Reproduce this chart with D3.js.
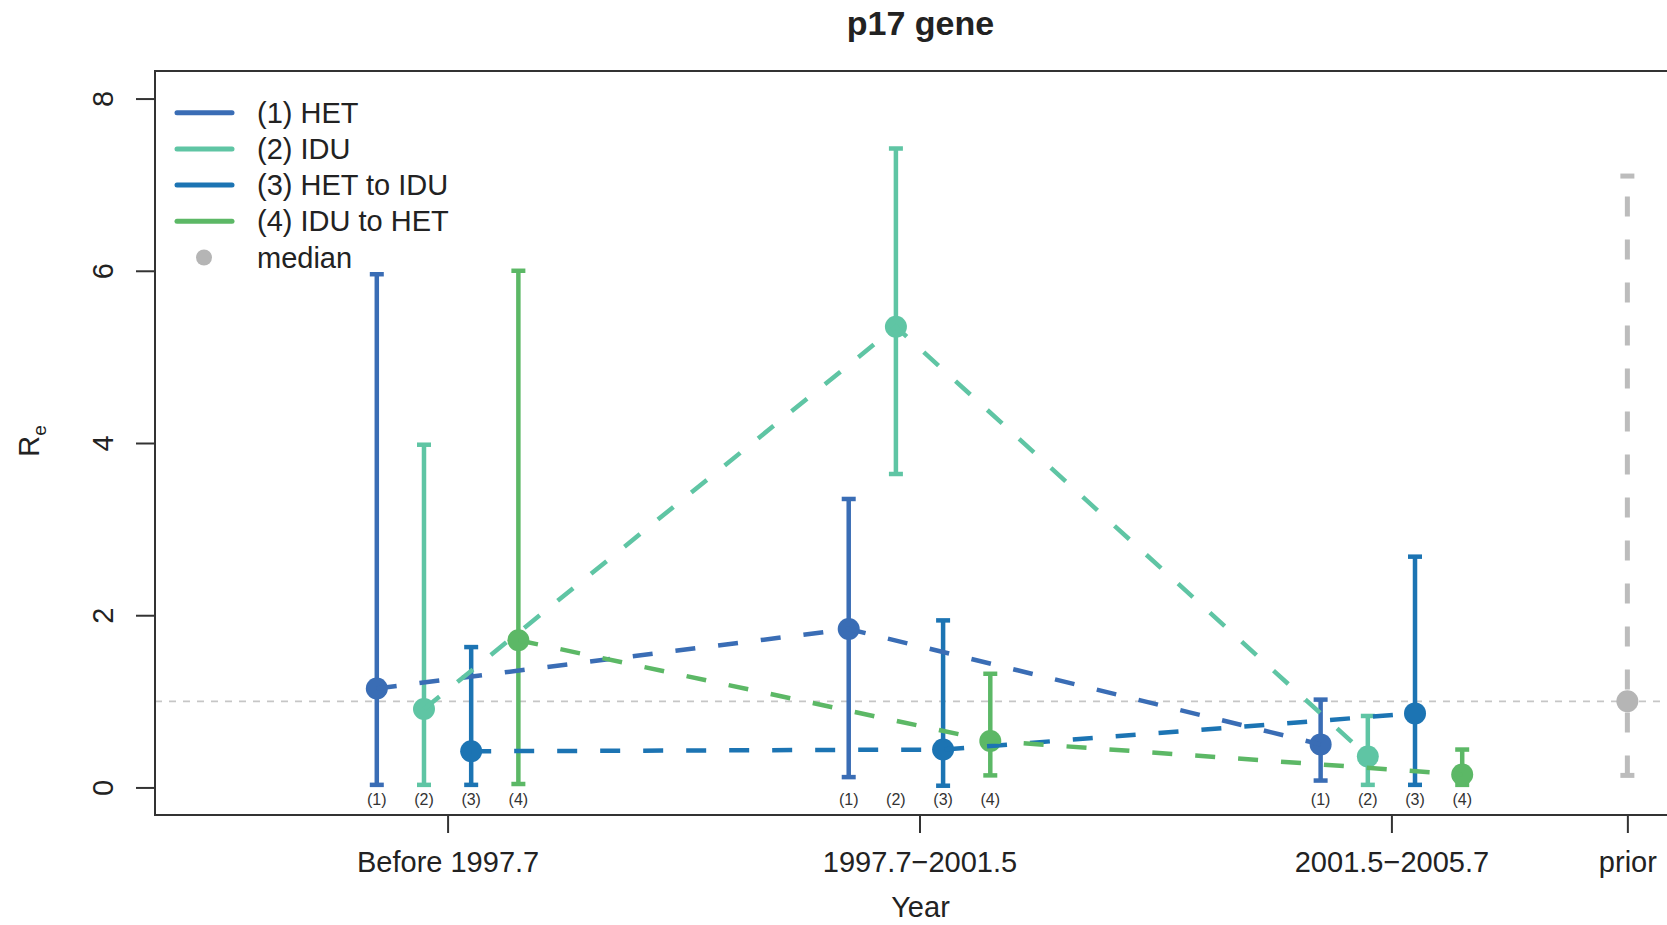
<!DOCTYPE html>
<html>
<head>
<meta charset="utf-8">
<script src="https://cdn.jsdelivr.net/npm/d3@7"></script>
<style>
  body { margin: 0; background: #fff; }
  svg { display: block; font-family: "Liberation Sans", Arial, sans-serif; }
</style>
</head>
<body>
<svg id="chart" width="1667" height="925"></svg>
<script>
// periods on the x axis, plus the prior column
var periods = ["Before 1997.7", "1997.7\u22122001.5", "2001.5\u22122005.7"];
var periodTicks = [1, 2, 3, 3.5];
var tickLabels = ["Before 1997.7", "1997.7\u22122001.5", "2001.5\u22122005.7", "prior"];
var yTicks = [0, 2, 4, 6, 8];

var seriesNames = ["(1) HET", "(2) IDU", "(3) HET to IDU", "(4) IDU to HET"];
var seriesShort = ["(1)", "(2)", "(3)", "(4)"];
var colors = ["#3a6db5", "#5fc5a4", "#1c74b3", "#5cb866"];

// Re median and interval per period
var medianHET = [1.15, 1.84, 0.50];
var lowerHET  = [0.03, 0.12, 0.08];
var upperHET  = [5.96, 3.35, 1.02];

var medianIDU = [0.91, 5.35, 0.36];
var lowerIDU  = [0.03, 3.64, 0.03];
var upperIDU  = [3.98, 7.42, 0.83];

var medianH2I = [0.42, 0.44, 0.86];
var lowerH2I  = [0.03, 0.02, 0.03];
var upperH2I  = [1.63, 1.94, 2.68];

var medianI2H = [1.71, 0.54, 0.15];
var lowerI2H  = [0.04, 0.14, 0.03];
var upperI2H  = [6.00, 1.32, 0.44];

var prior = { lower: 0.14, median: 1.0, upper: 7.10 };
var refLine = 1;

var medians = [medianHET, medianIDU, medianH2I, medianI2H];
var lowers = [lowerHET, lowerIDU, lowerH2I, lowerI2H];
var uppers = [upperHET, upperIDU, upperH2I, upperI2H];

var svg = d3.select("#chart");
var margin = {top: 71, left: 155, bottom: 815, right: 1684};

var x = d3.scaleLinear().domain([0.38, 3.62]).range([margin.left, margin.right]);
var y = d3.scaleLinear().domain([-0.32, 8.32]).range([margin.bottom, margin.top]);
var dodge = d3.scalePoint().domain(d3.range(4)).range([-0.15, 0.15]);

var data = [];
seriesNames.forEach(function(s, i) {
	periods.forEach(function(p, j) {
		data.push({ s: i, p: j, x: j + 1 + dodge(i), med: medians[i][j], lo: lowers[i][j], hi: uppers[i][j] });
	});
});

// reference line at Re = 1
svg.append("line")
	.attr("x1", margin.left).attr("x2", margin.right)
	.attr("y1", y(refLine)).attr("y2", y(refLine))
	.attr("stroke", "#c6c6c6").attr("stroke-width", 1.6)
	.attr("stroke-dasharray", "7,7");

// error bars
var bars = svg.append("g");
bars.selectAll(".bar")
	.data(data)
	.enter().append("line")
	.attr("x1", function(d) { return x(d.x); })
	.attr("x2", function(d) { return x(d.x); })
	.attr("y1", function(d) { return y(d.lo); })
	.attr("y2", function(d) { return y(d.hi); })
	.attr("stroke", function(d) { return colors[d.s]; })
	.attr("stroke-width", 4.5);

["lo", "hi"].forEach(function(k) {
	bars.selectAll(".cap" + k)
		.data(data)
		.enter().append("line")
		.attr("x1", function(d) { return x(d.x) - 7; })
		.attr("x2", function(d) { return x(d.x) + 7; })
		.attr("y1", function(d) { return y(d[k]); })
		.attr("y2", function(d) { return y(d[k]); })
		.attr("stroke", function(d) { return colors[d.s]; })
		.attr("stroke-width", 4.5);
});

// points
svg.append("g").selectAll("circle")
	.data(data)
	.enter().append("circle")
	.attr("cx", function(d) { return x(d.x); })
	.attr("cy", function(d) { return y(d.med); })
	.attr("r", 11)
	.attr("fill", function(d) { return colors[d.s]; });

// dashed lines joining medians
var line = d3.line()
	.x(function(d) { return x(d.x); })
	.y(function(d) { return y(d.med); });

seriesNames.forEach(function(s, i) {
	svg.append("path")
		.datum(data.filter(function(d) { return d.s == i; }))
		.attr("d", line)
		.attr("fill", "none")
		.attr("stroke", colors[i])
		.attr("stroke-width", 4.5)
		.attr("stroke-dasharray", "20,23");
});

// prior
var px = x(periodTicks[3]);
svg.append("line")
	.attr("x1", px).attr("x2", px)
	.attr("y1", y(prior.lower)).attr("y2", y(prior.upper))
	.attr("stroke", "#bcbcbc").attr("stroke-width", 5)
	.attr("stroke-dasharray", "20,23");
[prior.lower, prior.upper].forEach(function(v) {
	svg.append("line")
		.attr("x1", px - 7).attr("x2", px + 7)
		.attr("y1", y(v)).attr("y2", y(v))
		.attr("stroke", "#bcbcbc").attr("stroke-width", 5);
});
svg.append("circle")
	.attr("cx", px).attr("cy", y(prior.median)).attr("r", 11)
	.attr("fill", "#b5b5b5");

// small (1)..(4) labels
svg.append("g").selectAll("text")
	.data(data)
	.enter().append("text")
	.attr("x", function(d) { return x(d.x); })
	.attr("y", 805)
	.attr("text-anchor", "middle")
	.attr("font-size", 16)
	.attr("fill", "#333")
	.text(function(d) { return seriesShort[d.s]; });

// axes
var xAxis = svg.append("g")
	.attr("transform", "translate(0," + margin.bottom + ")")
	.call(d3.axisBottom(x).tickValues(periodTicks)
		.tickFormat(function(d, i) { return tickLabels[i]; })
		.tickSize(18).tickPadding(18));
xAxis.select(".domain").remove();
xAxis.selectAll("line").attr("stroke", "#333").attr("stroke-width", 2);
xAxis.selectAll("text").attr("font-size", 29).attr("fill", "#222")
	.attr("font-family", "Liberation Sans, Arial, sans-serif");

var yAxis = svg.append("g")
	.attr("transform", "translate(" + margin.left + ",0)")
	.call(d3.axisLeft(y).tickValues(yTicks).tickSize(19));
yAxis.select(".domain").remove();
yAxis.selectAll("line").attr("stroke", "#333").attr("stroke-width", 2);
yAxis.selectAll("text")
	.attr("font-size", 29).attr("fill", "#222")
	.attr("font-family", "Liberation Sans, Arial, sans-serif")
	.attr("transform", "rotate(-90)")
	.attr("text-anchor", "middle")
	.attr("x", 0).attr("y", -52).attr("dy", "0.35em");

// frame
svg.append("rect")
	.attr("x", margin.left).attr("y", margin.top)
	.attr("width", margin.right - margin.left)
	.attr("height", margin.bottom - margin.top)
	.attr("fill", "none").attr("stroke", "#333").attr("stroke-width", 2);

// titles
svg.append("text")
	.attr("x", 920.5).attr("y", 35)
	.attr("text-anchor", "middle").attr("font-size", 34).attr("font-weight", "bold")
	.attr("fill", "#222").text("p17 gene");

svg.append("text")
	.attr("x", 920.5).attr("y", 917)
	.attr("text-anchor", "middle").attr("font-size", 29)
	.attr("fill", "#222").text("Year");

var ylab = svg.append("text")
	.attr("transform", "translate(39,441) rotate(-90)")
	.attr("text-anchor", "middle").attr("font-size", 29).attr("fill", "#222");
ylab.append("tspan").text("R");
ylab.append("tspan").attr("font-size", 19).attr("dy", 7).text("e");

// legend
var legend = svg.append("g");
var rowY = function(i) { return 112.7 + i * 36.2; };
seriesNames.forEach(function(s, i) {
	legend.append("line")
		.attr("x1", 177).attr("x2", 232)
		.attr("y1", rowY(i)).attr("y2", rowY(i))
		.attr("stroke", colors[i]).attr("stroke-width", 5).attr("stroke-linecap", "round");
	legend.append("text")
		.attr("x", 257).attr("y", rowY(i) + 10)
		.attr("font-size", 29).attr("fill", "#222").text(s);
});
legend.append("circle")
	.attr("cx", 204).attr("cy", rowY(4)).attr("r", 8).attr("fill", "#b5b5b5");
legend.append("text")
	.attr("x", 257).attr("y", rowY(4) + 10)
	.attr("font-size", 29).attr("fill", "#222").text("median");
</script>
</body>
</html>
